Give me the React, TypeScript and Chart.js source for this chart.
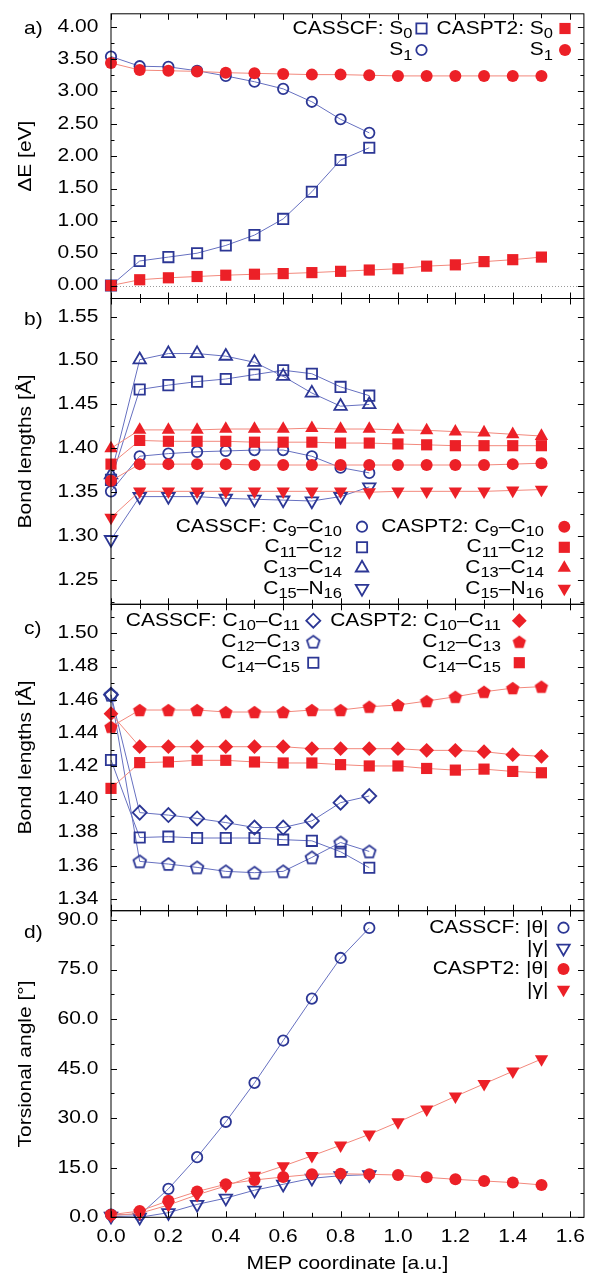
import React, { useEffect, useRef } from 'react';
import { Chart, registerables } from 'chart.js';
Chart.register(...registerables);

const W = 593;
const H = 1279;

// ---------- shared x data ----------
const xCASSCF = [0.0, 0.1, 0.2, 0.3, 0.4, 0.5, 0.6, 0.7, 0.8, 0.9];
const xCASPT2 = [0.0, 0.1, 0.2, 0.3, 0.4, 0.5, 0.6, 0.7, 0.8, 0.9, 1.0, 1.1, 1.2, 1.3, 1.4, 1.5];
const xTickValues = [0.0, 0.1, 0.2, 0.3, 0.4, 0.5, 0.6, 0.7, 0.8, 0.9, 1.0, 1.1, 1.2, 1.3, 1.4, 1.5, 1.6];
const xLabelValues = [0.0, 0.2, 0.4, 0.6, 0.8, 1.0, 1.2, 1.4, 1.6];
const xLabels = ['0.0', '0.2', '0.4', '0.6', '0.8', '1.0', '1.2', '1.4', '1.6'];
const xTitle = 'MEP coordinate [a.u.]';

// ---------- panel a ----------
const aCasscfS0 = [0.0, 0.38, 0.44, 0.5, 0.62, 0.78, 1.03, 1.45, 1.94, 2.13];
const aCasscfS1 = [3.54, 3.39, 3.38, 3.32, 3.24, 3.15, 3.04, 2.84, 2.57, 2.36];
const aCaspt2S0 = [0.0, 0.09, 0.12, 0.14, 0.16, 0.175, 0.185, 0.2, 0.22, 0.24, 0.26, 0.3, 0.32, 0.37, 0.4, 0.44];
const aCaspt2S1 = [3.44, 3.33, 3.32, 3.31, 3.29, 3.28, 3.27, 3.26, 3.26, 3.25, 3.24, 3.24, 3.24, 3.24, 3.24, 3.24];
const aTickValues = [0, 0.5, 1.0, 1.5, 2.0, 2.5, 3.0, 3.5, 4.0];
const aTickLabels = ['0.00', '0.50', '1.00', '1.50', '2.00', '2.50', '3.00', '3.50', '4.00'];

// ---------- panel b ----------
const bCasscfC9C10 = [1.351, 1.391, 1.394, 1.396, 1.397, 1.398, 1.398, 1.391, 1.378, 1.372];
const bCasscfC11C12 = [1.364, 1.467, 1.472, 1.476, 1.479, 1.484, 1.489, 1.485, 1.47, 1.46];
const bCasscfC13C14 = [1.37, 1.501, 1.508, 1.508, 1.505, 1.498, 1.482, 1.463, 1.448, 1.45];
const bCasscfC15N16 = [1.296, 1.345, 1.345, 1.345, 1.343, 1.342, 1.341, 1.34, 1.345, 1.356];
const bCaspt2C9C10 = [1.363, 1.382, 1.382, 1.382, 1.382, 1.381, 1.381, 1.381, 1.381, 1.381, 1.381, 1.381, 1.381, 1.381, 1.382, 1.383];
const bCaspt2C11C12 = [1.382, 1.409, 1.408, 1.408, 1.408, 1.407, 1.407, 1.407, 1.406, 1.406, 1.405, 1.404, 1.403, 1.403, 1.403, 1.403];
const bCaspt2C13C14 = [1.4, 1.421, 1.421, 1.421, 1.422, 1.422, 1.422, 1.423, 1.422, 1.422, 1.421, 1.4205, 1.419, 1.418, 1.416, 1.414];
const bCaspt2C15N16 = [1.321, 1.351, 1.351, 1.351, 1.351, 1.351, 1.351, 1.351, 1.351, 1.35, 1.351, 1.351, 1.351, 1.351, 1.352, 1.353];
const bTickValues = [1.25, 1.3, 1.35, 1.4, 1.45, 1.5, 1.55];
const bTickLabels = ['1.25', '1.30', '1.35', '1.40', '1.45', '1.50', '1.55'];

// ---------- panel c ----------
const cCasscfC10C11 = [1.463, 1.392, 1.3905, 1.3885, 1.386, 1.383, 1.383, 1.387, 1.398, 1.402];
const cCasscfC12C13 = [1.463, 1.3626, 1.361, 1.359, 1.3566, 1.3558, 1.3566, 1.365, 1.374, 1.3686];
const cCasscfC14C15 = [1.4237, 1.377, 1.3775, 1.3767, 1.3767, 1.3767, 1.3757, 1.375, 1.3684, 1.3588];
const cCaspt2C10C11 = [1.4516, 1.4317, 1.4317, 1.4317, 1.4317, 1.4317, 1.4317, 1.4305, 1.4305, 1.4305, 1.4305, 1.4295, 1.4295, 1.4287, 1.4269, 1.4259];
const cCaspt2C12C13 = [1.4437, 1.4538, 1.4538, 1.4538, 1.4526, 1.4526, 1.4526, 1.4538, 1.4538, 1.4558, 1.4568, 1.4592, 1.4618, 1.4648, 1.467, 1.4679];
const cCaspt2C14C15 = [1.4066, 1.4221, 1.4225, 1.4235, 1.4235, 1.4225, 1.4219, 1.4219, 1.4209, 1.4201, 1.4201, 1.4186, 1.4176, 1.4182, 1.4168, 1.416];
const cTickValues = [1.34, 1.36, 1.38, 1.4, 1.42, 1.44, 1.46, 1.48, 1.5];
const cTickLabels = ['1.34', '1.36', '1.38', '1.40', '1.42', '1.44', '1.46', '1.48', '1.50'];

// ---------- panel d ----------
const dCasscfTheta = [0.8, 0.7, 8.6, 18.2, 28.9, 40.7, 53.5, 66.2, 78.5, 87.6];
const dCasscfGamma = [0.3, 0.0, 1.4, 3.9, 5.8, 8.2, 10.0, 11.8, 12.6, 12.9];
const dCaspt2Theta = [0.8, 1.9, 5.0, 7.8, 10.0, 11.3, 12.2, 13.0, 13.2, 13.0, 12.8, 12.1, 11.5, 11.0, 10.5, 9.8];
const dCaspt2Gamma = [0.5, 1.2, 3.7, 6.8, 9.5, 12.6, 15.5, 18.6, 21.8, 25.1, 28.8, 32.7, 36.6, 40.4, 44.2, 47.9];
const dTickValues = [0, 15, 30, 45, 60, 75, 90];
const dTickLabels = ['0.0', '15.0', '30.0', '45.0', '60.0', '75.0', '90.0'];

// ---------- styles ----------
const BLUE = '#2c3795';
const RED = '#ec2027';
const BLUE_LINE = '#6670c0';
const RED_LINE = '#f2887c';
const FONT = '"Liberation Sans", Arial, Helvetica, sans-serif';
const FS = 17.8;
const SUBFS = 14;
const SX = 1.18;
const HOLLOW_LW = 1.8;
const PLOT_LEFT = 111;
const PLOT_RIGHT = 591.7;
const X_MAX = 1.648;

type MarkerKind = 'circle' | 'rect' | 'triangle' | 'triangleDown' | 'diamond' | 'pentagon';

const MARKERS: Record<MarkerKind, { hollowR: number; filledR: number }> = {
  circle: { hollowR: 5.2, filledR: 6.0 },
  rect: { hollowR: 7.3, filledR: 7.9 },
  triangle: { hollowR: 7.2, filledR: 7.7 },
  triangleDown: { hollowR: 7.2, filledR: 7.7 },
  diamond: { hollowR: 7.0, filledR: 7.4 },
  pentagon: { hollowR: 6.6, filledR: 7.0 },
};

const pentCache: Record<string, HTMLCanvasElement> = {};
function pentagonImage(filled: boolean): HTMLCanvasElement {
  const key = filled ? 'f' : 'h';
  if (pentCache[key]) return pentCache[key];
  const R = filled ? MARKERS.pentagon.filledR : MARKERS.pentagon.hollowR;
  const size = Math.ceil(2 * R + 4);
  const c = document.createElement('canvas');
  c.width = size;
  c.height = size;
  const g = c.getContext('2d')!;
  const cx = size / 2;
  const cy = size / 2 + R * 0.0955;
  g.beginPath();
  for (let k = 0; k < 5; k++) {
    const a = -Math.PI / 2 + (k * 2 * Math.PI) / 5;
    const px = cx + R * Math.cos(a);
    const py = cy + R * Math.sin(a);
    if (k === 0) g.moveTo(px, py);
    else g.lineTo(px, py);
  }
  g.closePath();
  if (filled) {
    g.fillStyle = RED;
    g.fill();
  } else {
    g.lineWidth = HOLLOW_LW;
    g.strokeStyle = BLUE;
    g.stroke();
  }
  pentCache[key] = c;
  return c;
}

function drawMarker(ctx: CanvasRenderingContext2D, kind: MarkerKind, filled: boolean, x: number, y: number) {
  const r = filled ? MARKERS[kind].filledR : MARKERS[kind].hollowR;
  if (kind === 'pentagon') {
    const img = pentagonImage(filled);
    ctx.drawImage(img, x - img.width / 2, y - img.height / 2);
    return;
  }
  ctx.beginPath();
  if (kind === 'circle') {
    ctx.arc(x, y, r, 0, Math.PI * 2);
  } else if (kind === 'rect') {
    const s = Math.SQRT1_2 * r;
    ctx.rect(x - s, y - s, 2 * s, 2 * s);
  } else if (kind === 'triangle' || kind === 'triangleDown') {
    let rad = kind === 'triangleDown' ? Math.PI : 0;
    for (let k = 0; k < 3; k++) {
      const px = x + Math.sin(rad) * r;
      const py = y - Math.cos(rad) * r;
      if (k === 0) ctx.moveTo(px, py);
      else ctx.lineTo(px, py);
      rad += (2 * Math.PI) / 3;
    }
  } else if (kind === 'diamond') {
    ctx.moveTo(x - r, y);
    ctx.lineTo(x, y - r);
    ctx.lineTo(x + r, y);
    ctx.lineTo(x, y + r);
  }
  ctx.closePath();
  if (filled) {
    ctx.fillStyle = RED;
    ctx.fill();
  } else {
    ctx.lineWidth = HOLLOW_LW;
    ctx.strokeStyle = BLUE;
    ctx.stroke();
  }
}

type Series = {
  x: number[];
  y: number[];
  casscf: boolean;
  marker: MarkerKind;
  label: string;
  col: number;
  row: number;
};

type PanelSpec = {
  top: number;
  bottom: number;
  yMin: number;
  yMax: number;
  yTicks: number[];
  yLabels: string[];
  letter: string;
  letterY: number;
  title: string;
  zeroLine?: boolean;
  showX?: boolean;
  series: Series[];
  legendCols: { markerX: number; textRight: number }[];
  legendRows: number[];
};

const panels: PanelSpec[] = [
  {
    top: 13.8, bottom: 298.5, yMin: -0.2, yMax: 4.2,
    yTicks: aTickValues, yLabels: aTickLabels,
    letter: 'a)', letterY: 29, title: 'ΔE [eV]', zeroLine: true,
    series: [
      { x: xCASSCF, y: aCasscfS0, casscf: true, marker: 'rect', label: 'CASSCF: S_{0}', col: 0, row: 0 },
      { x: xCASSCF, y: aCasscfS1, casscf: true, marker: 'circle', label: 'S_{1}', col: 0, row: 1 },
      { x: xCASPT2, y: aCaspt2S0, casscf: false, marker: 'rect', label: 'CASPT2: S_{0}', col: 1, row: 0 },
      { x: xCASPT2, y: aCaspt2S1, casscf: false, marker: 'circle', label: 'S_{1}', col: 1, row: 1 },
    ],
    legendCols: [{ markerX: 421.5, textRight: 412.5 }, { markerX: 565, textRight: 553 }],
    legendRows: [28.5, 50],
  },
  {
    top: 298.5, bottom: 604.3, yMin: 1.2223, yMax: 1.5707,
    yTicks: bTickValues, yLabels: bTickLabels,
    letter: 'b)', letterY: 320, title: 'Bond lengths [Å]',
    series: [
      { x: xCASSCF, y: bCasscfC9C10, casscf: true, marker: 'circle', label: 'CASSCF: C_{9}–C_{10}', col: 0, row: 0 },
      { x: xCASSCF, y: bCasscfC11C12, casscf: true, marker: 'rect', label: 'C_{11}–C_{12}', col: 0, row: 1 },
      { x: xCASSCF, y: bCasscfC13C14, casscf: true, marker: 'triangle', label: 'C_{13}–C_{14}', col: 0, row: 2 },
      { x: xCASSCF, y: bCasscfC15N16, casscf: true, marker: 'triangleDown', label: 'C_{15}–N_{16}', col: 0, row: 3 },
      { x: xCASPT2, y: bCaspt2C9C10, casscf: false, marker: 'circle', label: 'CASPT2: C_{9}–C_{10}', col: 1, row: 0 },
      { x: xCASPT2, y: bCaspt2C11C12, casscf: false, marker: 'rect', label: 'C_{11}–C_{12}', col: 1, row: 1 },
      { x: xCASPT2, y: bCaspt2C13C14, casscf: false, marker: 'triangle', label: 'C_{13}–C_{14}', col: 1, row: 2 },
      { x: xCASPT2, y: bCaspt2C15N16, casscf: false, marker: 'triangleDown', label: 'C_{15}–N_{16}', col: 1, row: 3 },
    ],
    legendCols: [{ markerX: 362, textRight: 342 }, { markerX: 564.3, textRight: 544 }],
    legendRows: [526.7, 547.3, 567.9, 588.5],
  },
  {
    top: 604.3, bottom: 910.7, yMin: 1.3329, yMax: 1.5175,
    yTicks: cTickValues, yLabels: cTickLabels,
    letter: 'c)', letterY: 629, title: 'Bond lengths [Å]',
    series: [
      { x: xCASSCF, y: cCasscfC10C11, casscf: true, marker: 'diamond', label: 'CASSCF: C_{10}–C_{11}', col: 0, row: 0 },
      { x: xCASSCF, y: cCasscfC12C13, casscf: true, marker: 'pentagon', label: 'C_{12}–C_{13}', col: 0, row: 1 },
      { x: xCASSCF, y: cCasscfC14C15, casscf: true, marker: 'rect', label: 'C_{14}–C_{15}', col: 0, row: 2 },
      { x: xCASPT2, y: cCaspt2C10C11, casscf: false, marker: 'diamond', label: 'CASPT2: C_{10}–C_{11}', col: 1, row: 0 },
      { x: xCASPT2, y: cCaspt2C12C13, casscf: false, marker: 'pentagon', label: 'C_{12}–C_{13}', col: 1, row: 1 },
      { x: xCASPT2, y: cCaspt2C14C15, casscf: false, marker: 'rect', label: 'C_{14}–C_{15}', col: 1, row: 2 },
    ],
    legendCols: [{ markerX: 313.3, textRight: 300 }, { markerX: 519.3, textRight: 501 }],
    legendRows: [620.7, 641.7, 662.7],
  },
  {
    top: 910.7, bottom: 1217.3, yMin: 0, yMax: 92.8,
    yTicks: dTickValues, yLabels: dTickLabels,
    letter: 'd)', letterY: 933.5, title: 'Torsional angle [°]', showX: true,
    series: [
      { x: xCASSCF, y: dCasscfTheta, casscf: true, marker: 'circle', label: 'CASSCF: |θ|', col: 0, row: 0 },
      { x: xCASSCF, y: dCasscfGamma, casscf: true, marker: 'triangleDown', label: '|γ|', col: 0, row: 1 },
      { x: xCASPT2, y: dCaspt2Theta, casscf: false, marker: 'circle', label: 'CASPT2: |θ|', col: 0, row: 2 },
      { x: xCASPT2, y: dCaspt2Gamma, casscf: false, marker: 'triangleDown', label: '|γ|', col: 0, row: 3 },
    ],
    legendCols: [{ markerX: 563.5, textRight: 548.5 }],
    legendRows: [927.7, 948.3, 969, 989.5],
  },
];

// ---------- text helpers ----------
type Seg = { t: string; sub: boolean };
function parseRich(s: string): Seg[] {
  const out: Seg[] = [];
  const re = /_\{([^}]*)\}/g;
  let last = 0;
  let m: RegExpExecArray | null;
  while ((m = re.exec(s))) {
    if (m.index > last) out.push({ t: s.slice(last, m.index), sub: false });
    out.push({ t: m[1], sub: true });
    last = m.index + m[0].length;
  }
  if (last < s.length) out.push({ t: s.slice(last), sub: false });
  return out;
}

function drawStretched(ctx: CanvasRenderingContext2D, text: string, x: number, y: number, align: CanvasTextAlign, baseline: CanvasTextBaseline, size = FS) {
  ctx.save();
  ctx.font = `${size}px ${FONT}`;
  ctx.translate(x, y);
  ctx.scale(SX, 1);
  ctx.textAlign = align;
  ctx.textBaseline = baseline;
  ctx.fillStyle = '#000';
  ctx.fillText(text, 0, 0);
  ctx.restore();
}

function drawRichRight(ctx: CanvasRenderingContext2D, s: string, xRight: number, yBase: number) {
  const segs = parseRich(s);
  const widths = segs.map((sg) => {
    ctx.font = `${sg.sub ? SUBFS : FS}px ${FONT}`;
    return ctx.measureText(sg.t).width * SX;
  });
  const total = widths.reduce((a, b) => a + b, 0);
  let x = xRight - total;
  segs.forEach((sg, i) => {
    drawStretched(ctx, sg.t, x, yBase + (sg.sub ? 4.5 : 0), 'left', 'alphabetic', sg.sub ? SUBFS : FS);
    x += widths[i];
  });
}

function minorTicks(major: number[], min: number, max: number): number[] {
  const out: number[] = [];
  const step = major[1] - major[0];
  const vals = [major[0] - step, ...major, major[major.length - 1] + step];
  for (let i = 0; i < vals.length - 1; i++) {
    const m = (vals[i] + vals[i + 1]) / 2;
    if (m > min && m < max) out.push(m);
  }
  return out;
}

function makePlugin(p: PanelSpec) {
  return {
    id: 'gnuframe',
    beforeDatasetsDraw(chart: any) {
      if (!p.zeroLine) return;
      const { ctx, chartArea: ca, scales } = chart;
      const y0 = Math.round(scales.y.getPixelForValue(0)) + 0.5;
      ctx.save();
      ctx.strokeStyle = '#9a9a9a';
      ctx.lineWidth = 1;
      ctx.setLineDash([1, 2]);
      ctx.beginPath();
      ctx.moveTo(ca.left, y0);
      ctx.lineTo(ca.right, y0);
      ctx.stroke();
      ctx.restore();
    },
    afterDraw(chart: any) {
      const { ctx, chartArea: ca, scales } = chart;
      const xs = scales.x;
      const ys = scales.y;
      ctx.save();
      ctx.strokeStyle = '#000';
      ctx.lineWidth = 1;
      ctx.setLineDash([]);
      ctx.strokeRect(ca.left, ca.top, ca.right - ca.left, ca.bottom - ca.top);
      ctx.beginPath();
      xTickValues.forEach((v, i) => {
        const px = Math.round(xs.getPixelForValue(v)) + 0.5;
        const len = i % 2 === 0 ? 6 : 4.5;
        ctx.moveTo(px, ca.top);
        ctx.lineTo(px, ca.top + len);
        ctx.moveTo(px, ca.bottom);
        ctx.lineTo(px, ca.bottom - len);
      });
      const drawY = (v: number, len: number) => {
        const py = Math.round(ys.getPixelForValue(v)) + 0.5;
        ctx.moveTo(ca.left, py);
        ctx.lineTo(ca.left + len, py);
        ctx.moveTo(ca.right, py);
        ctx.lineTo(ca.right - len, py);
      };
      p.yTicks.forEach((v) => drawY(v, 6));
      minorTicks(p.yTicks, p.yMin, p.yMax).forEach((v) => drawY(v, 3.5));
      ctx.stroke();

      // y tick labels
      p.yTicks.forEach((v, i) => {
        drawStretched(ctx, p.yLabels[i], 98.3, ys.getPixelForValue(v), 'right', 'middle');
      });
      // panel letter
      drawStretched(ctx, p.letter, 24, p.letterY, 'left', 'middle');
      // y title (rotated)
      ctx.save();
      ctx.translate(26.5, (ca.top + ca.bottom) / 2);
      ctx.rotate(-Math.PI / 2);
      ctx.scale(SX, 1);
      ctx.font = `${FS}px ${FONT}`;
      ctx.textAlign = 'center';
      ctx.textBaseline = 'middle';
      ctx.fillStyle = '#000';
      ctx.fillText(p.title, 0, 0);
      ctx.restore();

      if (p.showX) {
        xLabelValues.forEach((v, i) => {
          drawStretched(ctx, xLabels[i], xs.getPixelForValue(v), 1237.5, 'center', 'middle');
        });
        drawStretched(ctx, xTitle, (ca.left + ca.right) / 2, 1264.5, 'center', 'middle');
      }

      // legend
      p.series.forEach((s) => {
        const col = p.legendCols[s.col];
        const yRow = p.legendRows[s.row];
        drawRichRight(ctx, s.label, col.textRight, yRow + 5);
        drawMarker(ctx, s.marker, !s.casscf, col.markerX, yRow);
      });
      ctx.restore();
    },
  };
}

function makeConfig(p: PanelSpec): any {
  const n = p.series.length;
  const datasets = p.series.map((s, i) => {
    const filled = !s.casscf;
    const mk = MARKERS[s.marker];
    let pointStyle: any = 'circle';
    let rot = 0;
    if (s.marker === 'rect') pointStyle = 'rect';
    else if (s.marker === 'triangle') pointStyle = 'triangle';
    else if (s.marker === 'triangleDown') { pointStyle = 'triangle'; rot = 180; }
    else if (s.marker === 'diamond') pointStyle = 'rectRot';
    else if (s.marker === 'pentagon') pointStyle = pentagonImage(filled);
    return {
      label: s.label,
      data: s.x.map((x, j) => ({ x, y: s.y[j] })),
      borderColor: s.casscf ? BLUE_LINE : RED_LINE,
      borderWidth: 1,
      fill: false,
      tension: 0,
      clip: false,
      order: n - i,
      pointStyle,
      pointRotation: rot,
      pointRadius: filled ? mk.filledR : mk.hollowR,
      pointBackgroundColor: filled ? RED : 'rgba(0,0,0,0)',
      pointBorderColor: filled ? RED : BLUE,
      pointBorderWidth: filled ? 0.01 : HOLLOW_LW,
    };
  });
  return {
    type: 'line',
    data: { datasets },
    options: {
      animation: false,
      responsive: false,
      maintainAspectRatio: false,
      devicePixelRatio: 1,
      events: [],
      layout: { padding: { left: PLOT_LEFT, right: W - PLOT_RIGHT, top: p.top, bottom: H - p.bottom } },
      plugins: { legend: { display: false }, tooltip: { enabled: false } },
      scales: {
        x: { type: 'linear', min: 0, max: X_MAX, display: false },
        y: { type: 'linear', min: p.yMin, max: p.yMax, display: false },
      },
    },
    plugins: [makePlugin(p)],
  };
}

function Panel({ spec }: { spec: PanelSpec }) {
  const ref = useRef<HTMLCanvasElement>(null);
  useEffect(() => {
    if (!ref.current) return;
    const chart = new Chart(ref.current, makeConfig(spec));
    return () => chart.destroy();
  }, [spec]);
  return (
    <canvas
      ref={ref}
      width={W}
      height={H}
      style={{ position: 'absolute', left: 0, top: 0, width: W, height: H }}
    />
  );
}

export default function App() {
  return (
    <div style={{ position: 'absolute', left: 0, top: 0, width: W, height: H, background: '#fff' }}>
      {panels.map((p, i) => (
        <Panel key={i} spec={p} />
      ))}
    </div>
  );
}
